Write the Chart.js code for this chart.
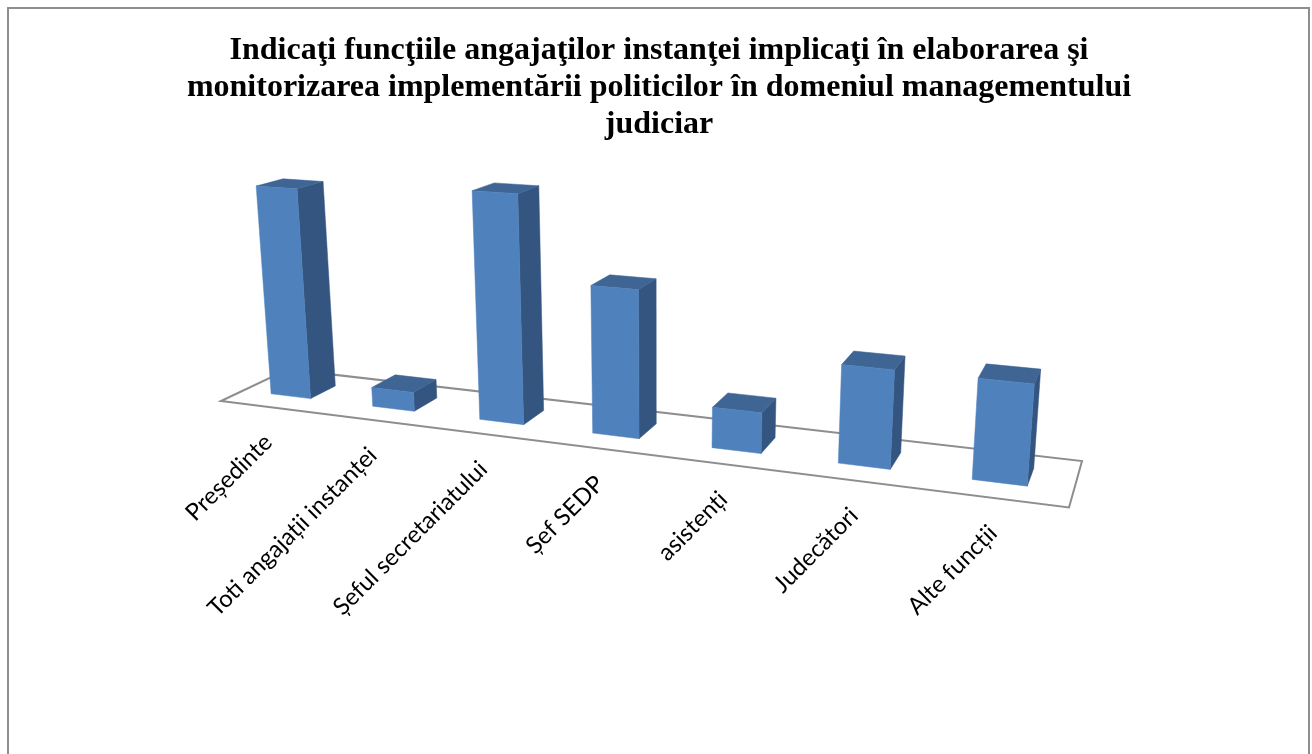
<!DOCTYPE html>
<html>
<head>
<meta charset="utf-8">
<title>Funcții implicate</title>
<script src="https://cdn.jsdelivr.net/npm/chart.js@4/dist/chart.umd.min.js"></script>
<style>
  html, body { margin: 0; padding: 0; background: #fff; overflow: hidden; }
  #wrap { position: absolute; left: 0; top: 0; width: 1312px; height: 754px; }
</style>
</head>
<body>
<div id="wrap"><canvas id="myChart" width="1312" height="754"></canvas></div>
<script>
const titleLines = [
  'Indicaţi funcţiile angajaţilor instanţei implicaţi în elaborarea şi',
  'monitorizarea implementării politicilor în domeniul managementului',
  'judiciar'
];
const categories = ['Președinte', 'Toti angajații instanței', 'Șeful secretariatului', 'Șef SEDP', 'asistenți', 'Judecători', 'Alte funcții'];
const values = [22, 2, 23, 14.7, 4, 9.4, 9.4];

const frontColor = '#4f81bd';
const sideColor = '#34557f';
const topColor = '#3e6594';
const lineColor = '#8e8e8e';

// floor corners on screen: front left, front right, back right, back left
const floor = [[221, 401], [1069, 507.5], [1082, 461], [288, 369.4]];
const vanish = [660, 5800]; // vertical edges of the bars meet here
const heightK = -0.0427;
const depthFront = 0.32;
const depthBack = 0.71;
const shiftU = -0.003; // bars sit a little left of the category centre

// homography of the unit floor square onto the floor corners
function makeProjection() {
  const [[x0, y0], [x1, y1], [x2, y2], [x3, y3]] = floor;
  const dx1 = x1 - x2, dy1 = y1 - y2, dx2 = x3 - x2, dy2 = y3 - y2;
  const sx = x0 - x1 + x2 - x3, sy = y0 - y1 + y2 - y3;
  const det = dx1 * dy2 - dx2 * dy1;
  const g = (sx * dy2 - dx2 * sy) / det;
  const h = (dx1 * sy - sx * dy1) / det;
  const a = x1 - x0 + g * x1, b = x3 - x0 + h * x3;
  const d = y1 - y0 + g * y1, e = y3 - y0 + h * y3;
  return function (u, v, w) {
    const t = v * heightK;
    const W = g * u + h * w + 1 + t;
    return [
      (a * u + b * w + x0 + t * vanish[0]) / W,
      (d * u + e * w + y0 + t * vanish[1]) / W
    ];
  };
}
const project = makeProjection();

function face(ctx, pts, color) {
  ctx.beginPath();
  pts.forEach((p, i) => i ? ctx.lineTo(p[0], p[1]) : ctx.moveTo(p[0], p[1]));
  ctx.closePath();
  ctx.fillStyle = color;
  ctx.fill();
  ctx.strokeStyle = color;
  ctx.lineWidth = 0.5;
  ctx.stroke();
}

const perspectivePlugin = {
  id: 'perspective',
  beforeDatasetDraw(chart, args) {
    const ctx = chart.ctx;
    const area = chart.chartArea;
    const scaleX = chart.scales.x;
    ctx.save();

    // outer frame, its bottom edge is cut by the picture
    ctx.strokeStyle = lineColor;
    ctx.lineWidth = 2;
    ctx.strokeRect(8, 8, 1301, 800);

    // floor
    ctx.beginPath();
    floor.forEach((p, i) => i ? ctx.lineTo(p[0], p[1]) : ctx.moveTo(p[0], p[1]));
    ctx.closePath();
    ctx.strokeStyle = lineColor;
    ctx.lineWidth = 2;
    ctx.stroke();

    // bars
    args.meta.data.forEach(bar => {
      const u0 = (bar.x - bar.width / 2 - area.left) / area.width + shiftU;
      const u1 = (bar.x + bar.width / 2 - area.left) / area.width + shiftU;
      const v = (bar.base - bar.y) / area.height;
      const p = (u, h, w) => project(u, h, w);
      face(ctx, [p(u1, 0, depthFront), p(u1, 0, depthBack), p(u1, v, depthBack), p(u1, v, depthFront)], sideColor);
      face(ctx, [p(u0, v, depthFront), p(u1, v, depthFront), p(u1, v, depthBack), p(u0, v, depthBack)], topColor);
      face(ctx, [p(u0, 0, depthFront), p(u1, 0, depthFront), p(u1, v, depthFront), p(u0, v, depthFront)], frontColor);
    });

    // category labels, hung under the tilted front edge
    ctx.fillStyle = '#000';
    ctx.font = '23.8px Lato';
    ctx.textAlign = 'right';
    ctx.textBaseline = 'middle';
    categories.forEach((label, i) => {
      const u = (scaleX.getPixelForValue(i) - area.left) / area.width;
      const pos = project(u, 0, 0);
      ctx.save();
      ctx.translate(pos[0] - 3, pos[1] + 31);
      ctx.rotate(-Math.PI / 4);
      ctx.fillText(label, 0, 0);
      ctx.restore();
    });

    ctx.restore();
    return false; // the flat bars are not drawn
  }
};

const chart = new Chart(document.getElementById('myChart').getContext('2d'), {
  type: 'bar',
  data: {
    labels: categories,
    datasets: [{
      data: values,
      backgroundColor: frontColor,
      barPercentage: 0.395,
      categoryPercentage: 1
    }]
  },
  options: {
    responsive: false,
    animation: false,
    layout: { padding: { left: 6, right: 0, top: 0, bottom: 0 } },
    scales: {
      x: { display: false },
      y: { display: false, min: 0, max: 25 }
    },
    plugins: {
      legend: { display: false },
      tooltip: { enabled: false },
      title: {
        display: true,
        text: titleLines,
        color: '#000',
        font: { family: 'Liberation Serif', weight: 'bold', size: 32, lineHeight: 1.16 },
        padding: { top: 32, bottom: 10 }
      }
    }
  },
  plugins: [perspectivePlugin]
});
</script>
</body>
</html>
